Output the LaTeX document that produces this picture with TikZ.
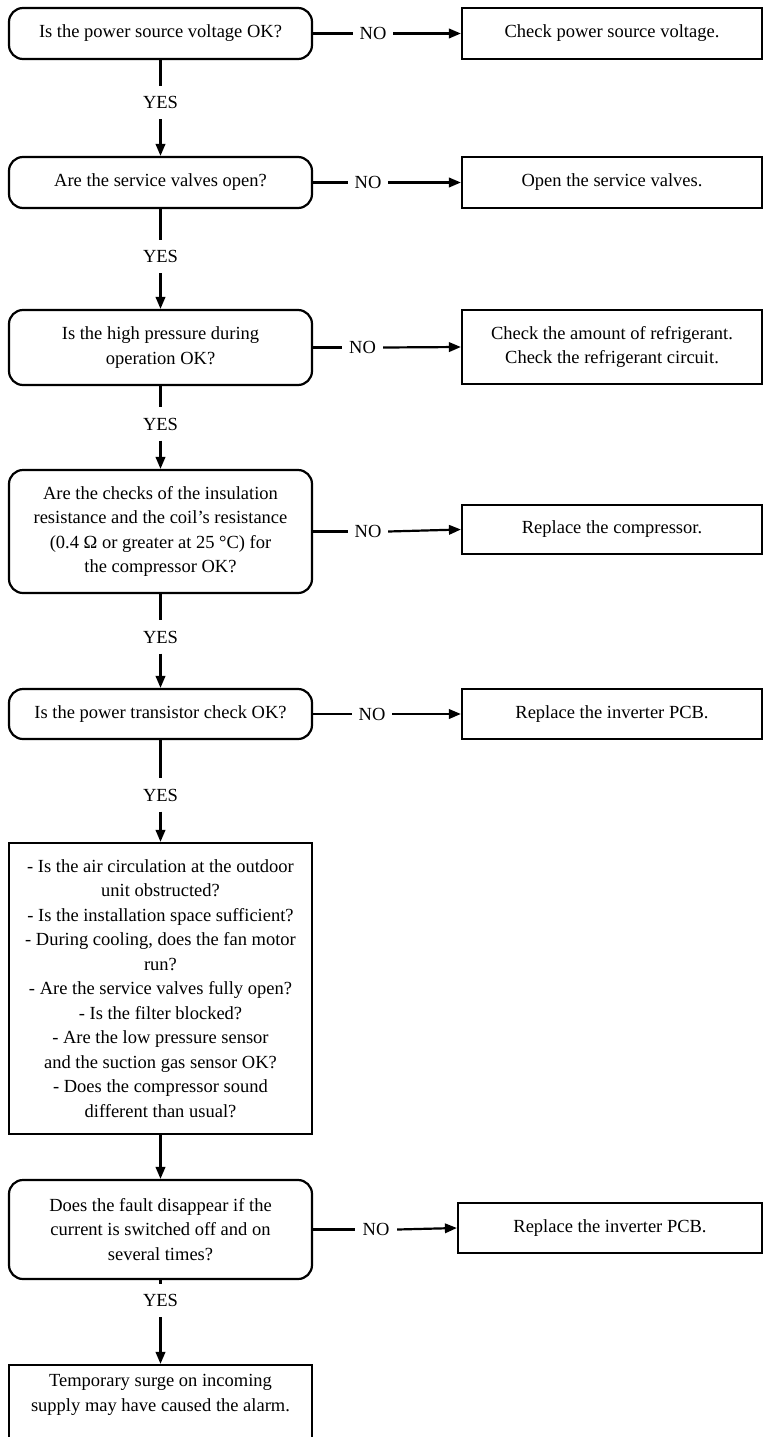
\documentclass[tikz,border=0pt]{standalone}
\usepackage{fontspec}
\setmainfont{Liberation Serif}
\usetikzlibrary{arrows.meta}
\begin{document}
\begin{tikzpicture}[x=1pt,y=-1pt,
  every node/.style={font=\fontsize{18.5}{24.5}\selectfont, align=center, inner sep=0pt},
  qbox/.style={draw, line width=2.2pt, rounded corners=14pt, minimum width=303pt},
  sbox/.style={draw, line width=2.2pt, minimum width=303pt},
  rbox/.style={draw, line width=2.2pt, minimum width=300pt},
  yeslbl/.style={minimum height=33pt, minimum width=40pt},
  nolbl/.style={minimum width=40pt, minimum height=20pt},
  conn/.style={line width=2.2pt},
  arr/.style={line width=2.2pt, -{Triangle[length=12pt,width=9.5pt]}}]
\useasboundingbox (0,0) rectangle (764,1437);

% left column
\node[qbox, minimum height=51pt] (b1) at (160.5,33.5) {Is the power source voltage OK?};
\node[qbox, minimum height=51pt] (b2) at (160.5,182.5) {Are the service valves open?};
\node[qbox, minimum height=75pt] (b3) at (160.5,347.5) {Is the high pressure during\\operation OK?};
\node[qbox, minimum height=123pt] (b4) at (160.5,531.5) {Are the checks of the insulation\\resistance and the coil’s resistance\\(0.4 Ω or greater at 25 °C) for\\the compressor OK?};
\node[qbox, minimum height=50pt] (b5) at (160.5,714) {Is the power transistor check OK?};
\node[sbox, minimum height=291pt] (b6) at (160.5,988.5) {- Is the air circulation at the outdoor\\unit obstructed?\\- Is the installation space sufficient?\\- During cooling, does the fan motor\\run?\\- Are the service valves fully open?\\- Is the filter blocked?\\- Are the low pressure sensor\\and the suction gas sensor OK?\\- Does the compressor sound\\different than usual?};
\node[qbox, minimum height=99pt] (b7) at (160.5,1229.5) {Does the fault disappear if the\\current is switched off and on\\several times?};
\node[sbox, minimum height=85pt] (b8) at (160.5,1407.5) {};
\node (t8) at (160.5,1395) {Temporary surge on incoming\\supply may have caused the alarm.};

% right column
\node[rbox, minimum height=51pt] (r1) at (612,33.5) {Check power source voltage.};
\node[rbox, minimum height=51pt] (r2) at (612,182.5) {Open the service valves.};
\node[rbox, minimum height=74pt] (r3) at (612,347) {Check the amount of refrigerant.\\Check the refrigerant circuit.};
\node[rbox, minimum height=49pt] (r4) at (612,529.5) {Replace the compressor.};
\node[rbox, minimum height=50pt] (r5) at (612,714) {Replace the inverter PCB.};
\node[rbox, minimum width=304pt, minimum height=50pt] (r7) at (610,1228) {Replace the inverter PCB.};

% YES labels
\node[yeslbl] (y1) at (160.5,102.5) {YES};
\node[yeslbl] (y2) at (160.5,256.5) {YES};
\node[yeslbl] (y3) at (160.5,424) {YES};
\node[yeslbl] (y4) at (160.5,637) {YES};
\node[yeslbl] (y5) at (160.5,795) {YES};
\node[yeslbl] (y6) at (160.5,1300.5) {YES};

% NO labels
\node[nolbl] (n1) at (373,33.5) {NO};
\node[nolbl] (n2) at (368,182.5) {NO};
\node[nolbl, minimum width=41pt] (n3) at (362.5,347.5) {NO};
\node[nolbl] (n4) at (368,531.5) {NO};
\node[nolbl] (n5) at (372,714) {NO};
\node[nolbl, minimum width=42pt] (n7) at (376,1229.5) {NO};

% vertical connectors
\draw[conn] (b1.south) -- (y1.north);
\draw[arr] (y1.south) -- (b2.north);
\draw[conn] (b2.south) -- (y2.north);
\draw[arr] (y2.south) -- (b3.north);
\draw[conn] (b3.south) -- (y3.north);
\draw[arr] (y3.south) -- (b4.north);
\draw[conn] (b4.south) -- (y4.north);
\draw[arr] (y4.south) -- (b5.north);
\draw[conn] (b5.south) -- (y5.north);
\draw[arr] (y5.south) -- (b6.north);
\draw[arr] (b6.south) -- (b7.north);
\draw[conn] (b7.south) -- (y6.north);
\draw[arr] (y6.south) -- (b8.north);

% horizontal connectors
\draw[conn] (b1.east) -- (n1.west);
\draw[arr] (n1.east) -- (r1.west);
\draw[conn] (b2.east) -- (n2.west);
\draw[arr] (n2.east) -- (r2.west);
\draw[conn] (b3.east) -- (n3.west);
\draw[arr] (n3.east) -- (r3.west);
\draw[conn] (b4.east) -- (n4.west);
\draw[arr] (n4.east) -- (r4.west);
\draw[conn] (b5.east) -- (n5.west);
\draw[arr] (n5.east) -- (r5.west);
\draw[conn] (b7.east) -- (n7.west);
\draw[arr] (n7.east) -- (r7.west);
\end{tikzpicture}
\end{document}
